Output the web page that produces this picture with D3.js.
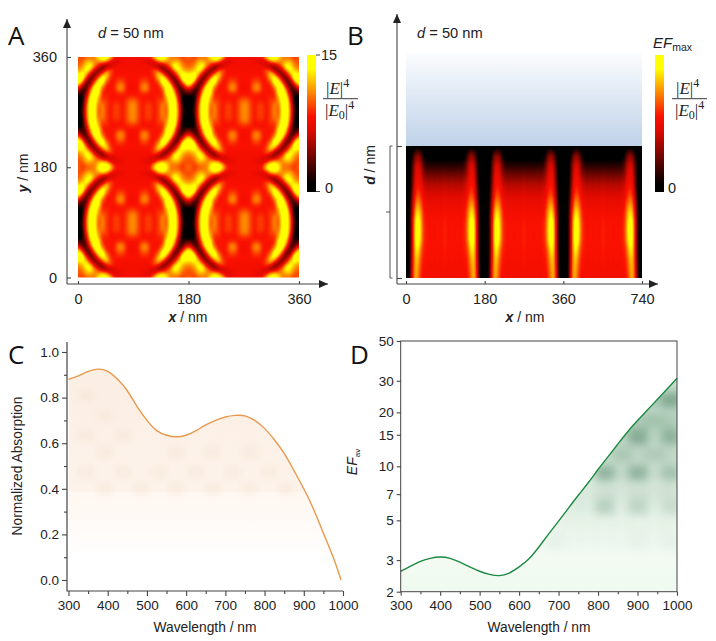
<!DOCTYPE html>
<html>
<head>
<meta charset="utf-8">
<style>
body { margin: 0; background: #fff; }
svg { display: block; }
text { font-family: "Liberation Sans", Arial, sans-serif; fill: #222; }
.axis path, .axis line { stroke: #444; stroke-width: 1.1; fill: none; }
.axis text { font-family: "Liberation Sans", Arial, sans-serif; fill: #222; }
.panel { font-family: "Open Sans", sans-serif; font-size: 26px; fill: #111; }
.math { font-family: "Liberation Serif", serif; font-size: 17px; fill: #222; }
</style>
</head>
<body>
<script src="https://d3js.org/d3.v7.min.js"></script>
<script>
// top left quarter of one 180 nm unit cell, |E|^4/|E0|^4, mirrored to fill panel A
const cellQuarter = [
  [10, 9, 10, 10.5, 10.5, 13.5, 15, 15, 12.5, 8.5, 8, 8, 8, 8],
  [9.5, 10, 12, 12, 11, 11, 12, 10.5, 7.5, 6.5, 7, 7.5, 8, 8],
  [10, 11, 13, 14.5, 11, 8.5, 5, 4.5, 6, 7, 8, 8, 8, 8],
  [11, 12, 14.5, 12.5, 7.5, 4, 4, 8, 9.5, 8.3, 8, 8, 8, 8],
  [13, 14, 12.5, 7.5, 3.5, 5, 10, 13, 9.5, 8.3, 8.2, 8.2, 8.2, 8.2],
  [15, 15, 9, 3.5, 4.5, 10.5, 14.5, 12.5, 8.8, 8.3, 8.6, 8.6, 8.4, 8.2],
  [15, 12, 4, 3, 9, 14.5, 15, 10, 8.3, 8.3, 9.5, 9.5, 8.4, 8.2],
  [12, 6, 2.5, 6, 13.5, 15, 12, 8.4, 8.3, 8.5, 10.8, 10.8, 8.5, 8],
  [6, 2.5, 3, 10.5, 15, 14.5, 9.5, 8.3, 8.3, 8.5, 10.8, 10.8, 8.5, 8],
  [3, 1.5, 5, 12.5, 15, 14, 8.6, 8.3, 8.5, 8.3, 8.8, 8.8, 8.3, 8.3],
  [0, 1, 7, 14.5, 15, 12, 8.6, 8.8, 8.3, 8.3, 8.3, 8.3, 8.6, 9],
  [0, 1, 9, 15, 15, 11, 9.6, 9.2, 8.3, 8.6, 8.6, 8.3, 9.2, 10.5],
  [0, 1.5, 10, 15, 14.5, 10, 10.8, 9.2, 8.3, 9.2, 9.2, 8.3, 9.4, 11],
  [0.5, 2, 10.5, 15, 14.5, 9.5, 11, 9.2, 8.3, 9.2, 9.2, 8.3, 9.4, 11]
];
// side view, half of one period, top to bottom, mirrored and repeated for panel B
const sideHalf = [
  [0, 0, 0, 0, 0.5, 0.3, 0, 0, 0, 0, 0, 0, 0, 0],
  [0, 0, 1, 4, 5, 4, 1, 0.4, 0.3, 0.3, 0.3, 0.3, 0.3, 0.3],
  [0, 0, 2, 6, 7, 6, 3, 1.8, 1.8, 1.8, 1.8, 1.8, 1.8, 1.8],
  [0, 0, 2.5, 6.8, 7.8, 6.8, 4.5, 4, 3.6, 4, 3.6, 3.9, 3.6, 3.9],
  [0, 0, 3, 7.5, 8.5, 7.8, 6, 5.8, 5.4, 5.8, 5.4, 5.8, 5.4, 5.8],
  [0, 0.5, 3.5, 8.5, 9.5, 8.8, 7, 6.8, 6.4, 6.8, 6.4, 6.8, 6.4, 6.8],
  [0, 0.5, 4.5, 10, 11.5, 10, 7.8, 7.6, 7.2, 7.6, 7.2, 7.6, 7.2, 7.6],
  [0, 0.5, 5.5, 11.5, 13.5, 11.5, 8.3, 8.1, 7.7, 8.1, 7.7, 8.1, 7.7, 8.1],
  [0, 0.5, 6, 13, 15, 12.5, 8.6, 8.5, 8, 8.5, 8, 8.5, 8, 8.5],
  [0, 0.5, 6, 13.5, 15, 13, 8.7, 8.6, 8, 8.6, 8, 8.6, 8, 8.6],
  [0, 0.5, 6, 13.5, 15, 12.5, 8.6, 8.6, 8, 8.6, 8, 8.6, 8, 8.6],
  [0, 0.5, 6, 13, 14, 10.5, 8.4, 8.5, 8, 8.5, 8, 8.5, 8, 8.5],
  [0, 0.5, 6.5, 12.5, 12.5, 9.5, 8.2, 8.4, 7.9, 8.4, 7.9, 8.4, 7.9, 8.4],
  [0, 0.5, 7, 12.5, 11.5, 9, 8, 8.2, 7.8, 8.2, 7.8, 8.2, 7.8, 8.2],
  [0, 0.5, 7.5, 12.5, 11, 8.6, 7.8, 8, 7.8, 8, 7.8, 8, 7.8, 8]
];

const wavelengths = [300, 325, 350, 375, 400, 425, 450, 475, 500, 525, 550, 575, 600, 625, 650, 675, 700, 725, 750, 775, 800, 825, 850, 875, 900, 925, 950, 975, 995];
const absorption = [0.88, 0.895, 0.915, 0.925, 0.915, 0.88, 0.83, 0.76, 0.70, 0.655, 0.635, 0.628, 0.635, 0.655, 0.68, 0.70, 0.715, 0.722, 0.72, 0.70, 0.665, 0.615, 0.555, 0.48, 0.40, 0.31, 0.205, 0.10, 0];
const efWavelengths = [300, 325, 350, 375, 400, 425, 450, 475, 500, 525, 550, 575, 600, 625, 650, 675, 700, 725, 750, 775, 800, 825, 850, 875, 900, 925, 950, 975, 1000];
const efAverage = [2.6, 2.78, 2.95, 3.07, 3.12, 3.07, 2.92, 2.75, 2.6, 2.5, 2.46, 2.54, 2.75, 3.05, 3.55, 4.2, 4.95, 5.85, 6.9, 8.1, 9.6, 11.3, 13.3, 15.6, 18, 20.6, 23.6, 27, 31];

// faint pattern showing through the fill of panel C
const absPatchWl = [346, 392, 439, 485, 531, 574, 625, 668, 719, 761, 812, 855];
const absPatchLevel = [0.805, 0.717, 0.63, 0.556, 0.469, 0.395];
const absPatch = [
  [1, 0, 0, 0, 0, 0, 0, 0, 0, 0, 0, 0],
  [0, 1, 0, 0, 0, 0, 0, 0, 0, 0, 0, 0],
  [1, 0, 1, 0, 0, 0, 0, 0, 0, 0, 0, 0],
  [0, 1, 0, 0, 0, 1, 0, 1, 0, 1, 0, 0],
  [1, 0, 1, 0, 1, 0, 1, 0, 1, 0, 1, 0],
  [0, 1, 0, 1, 0, 1, 0, 1, 0, 1, 0, 1]
];
// darker blotches in the fill of panel D
const efPatchWl = [690, 733, 775, 817, 859, 901, 943, 985];
const efPatchLevel = [23.4, 18, 14.6, 11.6, 9.2, 7.3, 5.97, 4.75, 3.8];
const efPatch = [
  [0, 0, 0, 0, 0, 0.2, 0.4, 0.9],
  [0, 0, 0, 0, 0.2, 0.4, 0.5, 0.4],
  [0, 0, 0, 0, 0.3, 0.9, 0.3, 0.8],
  [0, 0, 0, 0.2, 0.5, 0.3, 0.45, 0.3],
  [0, 0, 0.1, 0.8, 0.3, 0.8, 0.25, 0.6],
  [0, 0.1, 0.1, 0.2, 0.15, 0.2, 0.15, 0.2],
  [0, 0.1, 0.1, 0.45, 0.1, 0.4, 0.1, 0.3],
  [0.03, 0.05, 0.05, 0.05, 0.05, 0.05, 0.05, 0.05],
  [0.1, 0.04, 0.04, 0.04, 0.04, 0.1, 0.04, 0.1]
];

const xyTicks = [0, 180, 360];
const sideTicks = ["0", "180", "360", "740"];
const waveTicks = [300, 400, 500, 600, 700, 800, 900, 1000];
const waveMinor = [350, 450, 550, 650, 750, 850, 950];
const absTicks = [0, 0.2, 0.4, 0.6, 0.8, 1];
const absMinor = [0.1, 0.3, 0.5, 0.7, 0.9];
const efTicks = [2, 3, 5, 7, 10, 15, 20, 30, 50];

const heat = d3.scaleLinear()
    .domain([0, 0.9, 6.8, 8.3, 13.5, 15])
    .range(["#000", "#000", "#e00a00", "#fa1000", "#ffff00", "#ffff00"])
    .clamp(true);

const svg = d3.select("body").append("svg").attr("width", 716).attr("height", 641);
const defs = svg.append("defs");

// resample the coarse grid to one value per pixel, soften it a little, then paint
function heatImage(grid, w, h, radius) {
    const along = v => d3.quantize(d3.piecewise(d3.interpolateNumber, v), w);
    const down = v => d3.quantize(d3.piecewise(d3.interpolateNumber, v), h);
    const fineRows = grid.map(along);
    const values = new Float64Array(w * h);
    for (let i = 0; i < w; i++) {
        down(fineRows.map(r => r[i])).forEach((v, j) => { values[j * w + i] = v; });
    }
    d3.blur2({data: values, width: w, height: h}, radius);
    const canvas = document.createElement("canvas");
    canvas.width = w;
    canvas.height = h;
    const ctx = canvas.getContext("2d");
    const img = ctx.createImageData(w, h);
    values.forEach((v, n) => {
        const c = d3.rgb(heat(v));
        img.data[n * 4] = c.r;
        img.data[n * 4 + 1] = c.g;
        img.data[n * 4 + 2] = c.b;
        img.data[n * 4 + 3] = 255;
    });
    ctx.putImageData(img, 0, 0);
    return canvas.toDataURL();
}

function mirror(row) { return row.concat(row.slice().reverse()); }

function gradient(id, stops) {
    const g = defs.append("linearGradient").attr("id", id)
        .attr("x1", 0).attr("x2", 0).attr("y1", 0).attr("y2", 1);
    stops.forEach(s => g.append("stop").attr("offset", s[0]).attr("stop-color", s[1]));
}

function arrow(x1, y1, x2, y2) {
    const a = Math.atan2(y2 - y1, x2 - x1);
    const len = 9, half = 4;
    svg.append("line").attr("x1", x1).attr("y1", y1).attr("x2", x2).attr("y2", y2)
        .attr("stroke", "#444").attr("stroke-width", 1.1);
    const bx = x2 - len * Math.cos(a), by = y2 - len * Math.sin(a);
    svg.append("path").attr("fill", "#222")
        .attr("d", "M" + x2 + "," + y2 +
            "L" + (bx - half * Math.sin(a)) + "," + (by + half * Math.cos(a)) +
            "L" + (bx + half * Math.sin(a)) + "," + (by - half * Math.cos(a)) + "Z");
}

function tickAxis(axis, x, y, size) {
    const g = svg.append("g").attr("class", "axis")
        .attr("transform", "translate(" + x + "," + y + ")").call(axis);
    g.select(".domain").remove();
    g.selectAll("text").style("font-size", size + "px");
    return g;
}

function title(x, y, rotate, parts, size, anchor) {
    const t = svg.append("text").attr("text-anchor", anchor || "middle")
        .attr("transform", "translate(" + x + "," + y + ")" + (rotate ? " rotate(-90)" : ""))
        .style("font-size", size + "px");
    parts.forEach(p => {
        const s = t.append("tspan").text(p[0]);
        if (p[1]) s.style("font-style", "italic").style("font-weight", p[1] === "bi" ? "bold" : "normal");
    });
    return t;
}

function fraction(x, lineX1, lineX2) {
    const top = svg.append("text").attr("class", "math").attr("x", x).attr("y", 93.5);
    top.append("tspan").text("|");
    top.append("tspan").text("E").style("font-style", "italic");
    top.append("tspan").text("|");
    top.append("tspan").text("4").attr("dy", -7).style("font-size", "12px");
    svg.append("line").attr("x1", lineX1).attr("x2", lineX2).attr("y1", 98.7).attr("y2", 98.7)
        .attr("stroke", "#222").attr("stroke-width", 0.9);
    const bot = svg.append("text").attr("class", "math").attr("x", x - 1).attr("y", 115.5);
    bot.append("tspan").text("|");
    bot.append("tspan").text("E").style("font-style", "italic");
    bot.append("tspan").text("0").attr("dy", 3.5).style("font-size", "12px");
    bot.append("tspan").text("|").attr("dy", -3.5);
    bot.append("tspan").text("4").attr("dy", -7).style("font-size", "12px");
}

gradient("barHeat", d3.range(0, 1.001, 0.05).map(t => [t, heat(15 * (1 - t))]));

// ---- panel A
const xA = d3.scaleLinear().domain([0, 360]).range([78, 299]);
const yA = d3.scaleLinear().domain([0, 360]).range([277.5, 57]);
const tileRows = cellQuarter.concat(cellQuarter.slice().reverse()).map(mirror);
const gridA = tileRows.concat(tileRows).map(r => r.concat(r));
svg.append("image")
    .attr("x", xA(0)).attr("y", yA(360))
    .attr("width", xA(360) - xA(0)).attr("height", yA(0) - yA(360))
    .attr("preserveAspectRatio", "none")
    .attr("href", heatImage(gridA, 221, 221, 1));
arrow(67, 284, 67, 19);
arrow(67, 284, 328, 284);
tickAxis(d3.axisLeft(yA).tickValues(xyTicks).tickSize(-4).tickSizeOuter(0).tickPadding(10), 67, 0, 14.5);
tickAxis(d3.axisBottom(xA).tickValues(xyTicks).tickSize(-3).tickSizeOuter(0).tickPadding(10), 0, 284, 14.5);
title(188, 322, false, [["x", "bi"], [" / nm"]], 14);
title(28, 173, true, [["y", "bi"], [" / nm"]], 14);
title(98, 38, false, [["d", "i"], [" = 50 nm"]], 14.7, "start");
svg.append("text").attr("class", "panel").attr("x", 8).attr("y", 45).text("A");

const barA = d3.scaleLinear().domain([0, 15]).range([192, 55]);
svg.append("rect").attr("x", 307).attr("y", barA(15)).attr("width", 9)
    .attr("height", barA(0) - barA(15)).attr("fill", "url(#barHeat)");
svg.append("line").attr("x1", 316).attr("x2", 320).attr("y1", barA(15)).attr("y2", barA(15)).attr("stroke", "#444");
svg.append("line").attr("x1", 316).attr("x2", 320).attr("y1", barA(0) - 0.5).attr("y2", barA(0) - 0.5).attr("stroke", "#444");
svg.append("text").attr("x", 321).attr("y", barA(15) + 5).style("font-size", "14.5px").text("15");
svg.append("text").attr("x", 325).attr("y", barA(0) + 1).style("font-size", "14.5px").text("0");
fraction(326, 323, 358);

// ---- panel B
const xB = d3.scalePoint().domain(sideTicks).range([406, 642]);
const yB = d3.scaleLinear().domain([0, 1]).range([278, 146]);
gradient("overlayer", [[0, "#fbfcfe"], [1, "#bfd2e9"]]);
svg.append("rect").attr("x", xB("0")).attr("y", 53)
    .attr("width", xB("740") - xB("0")).attr("height", yB(1) - 53)
    .attr("fill", "url(#overlayer)");
const gridB = sideHalf.map(r => { const p = mirror(r); return p.concat(p, p); });
svg.append("image")
    .attr("x", xB("0")).attr("y", yB(1))
    .attr("width", xB("740") - xB("0")).attr("height", yB(0) - yB(1))
    .attr("preserveAspectRatio", "none")
    .attr("href", heatImage(gridB, 236, 132, 1));
arrow(397, 284, 397, 14);
arrow(397, 284, 658, 284);
tickAxis(d3.axisBottom(xB).tickSize(-3).tickSizeOuter(0).tickPadding(10), 0, 284, 14.5);
tickAxis(d3.axisRight(yB).tickValues([0, 1]).tickFormat("").tickSize(5).tickSizeOuter(0), 397, 0, 10);
// bracket marking the film thickness
svg.append("path").attr("fill", "none").attr("stroke", "#555").attr("stroke-width", 1)
    .attr("d", "M392.5," + yB(1) + "H390V" + yB(0) + "H392.5M390," + yB(0.5) + "H386");
title(525, 322, false, [["x", "bi"], [" / nm"]], 14);
title(375, 165, true, [["d", "bi"], [" / nm"]], 14);
title(417, 38, false, [["d", "i"], [" = 50 nm"]], 14.7, "start");
svg.append("text").attr("class", "panel").attr("x", 347).attr("y", 45).text("B");

svg.append("rect").attr("x", 655).attr("y", 55).attr("width", 9).attr("height", 137).attr("fill", "url(#barHeat)");
svg.append("text").attr("x", 668).attr("y", 193).style("font-size", "14.5px").text("0");
const efMax = svg.append("text").attr("x", 653).attr("y", 48).style("font-size", "15px");
efMax.append("tspan").text("EF").style("font-style", "italic");
efMax.append("tspan").text("max").attr("dy", 3).style("font-size", "10.5px");
fraction(676, 672, 707);

// ---- panel C
const xC = d3.scaleLinear().domain([300, 1000]).range([68.5, 343]);
const yC = d3.scaleLinear().domain([0, 1]).range([580, 352]);
const absData = d3.zip(wavelengths, absorption);
const absArea = d3.area().curve(d3.curveNatural)
    .x(d => xC(d[0])).y0(yC(0.1)).y1(d => yC(d[1]));
defs.append("clipPath").attr("id", "underAbs").append("path").attr("d", absArea(absData));
defs.append("filter").attr("id", "softC").append("feGaussianBlur").attr("stdDeviation", 3.5);
gradient("absFill", [[0, "#fbeee3"], [0.65, "#fdf3eb"], [0.655, "#fff7f1"], [0.9, "#fffcfa"], [1, "#ffffff"]]);
const fillC = svg.append("g").attr("clip-path", "url(#underAbs)");
fillC.append("rect").attr("x", xC(300)).attr("y", yC(0.925))
    .attr("width", xC(1000) - xC(300)).attr("height", yC(0.1) - yC(0.925))
    .attr("fill", "url(#absFill)");
const cellC = fillC.append("g").attr("filter", "url(#softC)");
absPatch.forEach((row, i) => row.forEach((v, j) => {
    if (!v) return;
    cellC.append("rect")
        .attr("x", xC(absPatchWl[j]) - 8).attr("y", yC(absPatchLevel[i]) - 7)
        .attr("width", 16).attr("height", 12)
        .attr("fill", "#e2c4a8").attr("opacity", 0.16);
}));
svg.append("path").attr("fill", "none").attr("stroke", "#e8994c").attr("stroke-width", 1.4)
    .attr("d", d3.line().curve(d3.curveNatural).x(d => xC(d[0])).y(d => yC(d[1]))(absData));
svg.append("path").attr("fill", "none").attr("stroke", "#444").attr("stroke-width", 1.2)
    .attr("d", "M67,342V591H343");
tickAxis(d3.axisLeft(yC).tickValues(absTicks).tickFormat(d3.format(".1f")).tickSize(5).tickSizeOuter(0).tickPadding(3), 67, 0, 13.5);
tickAxis(d3.axisLeft(yC).tickValues(absMinor).tickFormat("").tickSize(3).tickSizeOuter(0), 67, 0, 10);
tickAxis(d3.axisBottom(xC).tickValues(waveTicks).tickFormat(d3.format("d")).tickSize(5).tickSizeOuter(0).tickPadding(4), 0, 591, 13.5);
tickAxis(d3.axisBottom(xC).tickValues(waveMinor).tickFormat("").tickSize(3).tickSizeOuter(0), 0, 591, 10);
title(205, 632, false, [["Wavelength / nm"]], 13.8);
title(22, 466, true, [["Normalized Absorption"]], 13.8);
svg.append("text").attr("class", "panel").attr("x", 8).attr("y", 364).text("C");

// ---- panel D
const xD = d3.scaleLinear().domain([300, 1000]).range([400.7, 677]);
const yD = d3.scaleLog().domain([2, 50]).range([591.7, 341]);
const efData = d3.zip(efWavelengths, efAverage);
const efArea = d3.area().curve(d3.curveNatural)
    .x(d => xD(d[0])).y0(yD(2)).y1(d => yD(d[1]));
defs.append("clipPath").attr("id", "underEf").append("path").attr("d", efArea(efData));
defs.append("filter").attr("id", "softD").append("feGaussianBlur").attr("stdDeviation", 4);
gradient("efFill", [[0, "#c4dccb"], [0.3, "#d6e7da"], [0.65, "#ebf5ec"], [0.8, "#f3faf3"], [1, "#f0faf0"]]);
const fillD = svg.append("g").attr("clip-path", "url(#underEf)");
fillD.append("rect").attr("x", xD(300)).attr("y", yD(31))
    .attr("width", xD(1000) - xD(300)).attr("height", yD(2) - yD(31))
    .attr("fill", "url(#efFill)");
const cellD = fillD.append("g").attr("filter", "url(#softD)");
efPatch.forEach((row, i) => row.forEach((v, j) => {
    cellD.append("rect")
        .attr("x", xD(efPatchWl[j]) - 9).attr("y", yD(efPatchLevel[i]) - 8)
        .attr("width", 18).attr("height", 16)
        .attr("fill", "#5d8f70").attr("opacity", v * 0.75);
}));
svg.append("path").attr("fill", "none").attr("stroke", "#1c8a42").attr("stroke-width", 1.4)
    .attr("d", d3.line().curve(d3.curveNatural).x(d => xD(d[0])).y(d => yD(d[1]))(efData));
svg.append("rect").attr("x", xD(300)).attr("y", yD(50))
    .attr("width", xD(1000) - xD(300)).attr("height", yD(2) - yD(50))
    .attr("fill", "none").attr("stroke", "#444").attr("stroke-width", 1);
tickAxis(d3.axisLeft(yD).tickValues(efTicks).tickFormat(d3.format("d")).tickSize(4).tickSizeOuter(0).tickPadding(3), xD(300), 0, 13.5);
tickAxis(d3.axisBottom(xD).tickValues(waveTicks).tickFormat(d3.format("d")).tickSize(4).tickSizeOuter(0).tickPadding(5), 0, yD(2), 13.5);
tickAxis(d3.axisBottom(xD).tickValues(waveMinor).tickFormat("").tickSize(2.5).tickSizeOuter(0), 0, yD(2), 10);
title(539, 632, false, [["Wavelength / nm"]], 13.8);
const efLabel = svg.append("text").attr("text-anchor", "middle")
    .attr("transform", "translate(357,462) rotate(-90)").style("font-size", "14px");
efLabel.append("tspan").text("EF").style("font-style", "italic");
efLabel.append("tspan").text("av").attr("dy", 3).style("font-size", "8px");
svg.append("text").attr("class", "panel").attr("x", 350).attr("y", 364).text("D");
</script>
</body>
</html>
